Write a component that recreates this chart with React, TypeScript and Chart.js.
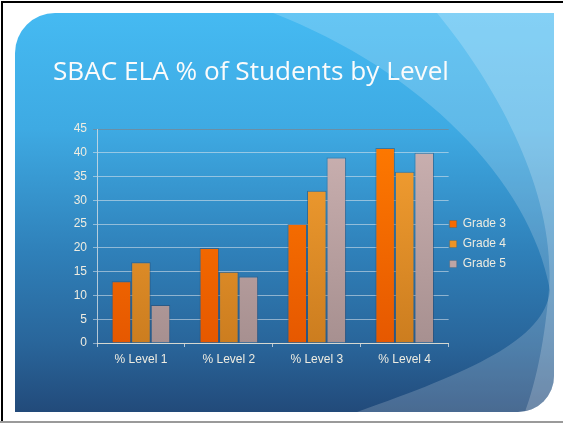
import { useEffect, useRef } from "react";
import { Chart, registerables } from "chart.js";

Chart.register(...registerables);

const categories = ["% Level 1", "% Level 2", "% Level 3", "% Level 4"];
const seriesNames = ["Grade 3", "Grade 4", "Grade 5"];
const grade3 = [13, 20, 25, 41];
const grade4 = [17, 15, 32, 36];
const grade5 = [8, 14, 39, 40];
const titleText = "SBAC ELA % of Students by Level";
const yMin = 0;
const yMax = 45;
const yStep = 5;

const W = 563;
const H = 424;
const TEXT = "#EEECE1";
const FONT = '"Liberation Sans", Arial, sans-serif';

const barTops = ["#ff7b00", "#f6a133", "#ccb2b2"];
const barBottoms = ["#e65800", "#cc7d1f", "#a79090"];
const legendColors = ["#f86a00", "#ee9426", "#bda5a5"];

function gradientFill(i: number) {
  return (ctx: any) => {
    const chart = ctx.chart;
    const ca = chart.chartArea;
    if (!ca) return barTops[i];
    const g = chart.ctx.createLinearGradient(0, ca.top, 0, ca.bottom);
    g.addColorStop(0, barTops[i]);
    g.addColorStop(1, barBottoms[i]);
    return g;
  };
}

const backgroundPlugin = {
  id: "slideBackground",
  beforeDraw(chart: any) {
    const ctx = chart.ctx as CanvasRenderingContext2D;
    ctx.save();
    ctx.fillStyle = "#ffffff";
    ctx.fillRect(0, 0, W, H);
    ctx.fillStyle = "#000000";
    ctx.fillRect(1, 1, W - 1, 2);
    ctx.fillRect(1, 1, 2, H - 3);
    ctx.fillStyle = "#9a9a9a";
    ctx.fillRect(0, 421, W, 2);

    ctx.beginPath();
    (ctx as any).roundRect(15, 13, 539, 399, [40, 0, 36, 0]);
    ctx.clip();
    const g = ctx.createLinearGradient(0, 13, 0, 412);
    g.addColorStop(0, "#45baf2");
    g.addColorStop(0.29, "#3eaae3");
    g.addColorStop(0.6, "#2f80b9");
    g.addColorStop(0.83, "#29659a");
    g.addColorStop(1, "#224a7a");
    ctx.fillStyle = g;
    ctx.fillRect(15, 13, 539, 399);

    ctx.beginPath();
    ctx.moveTo(273, 13);
    ctx.bezierCurveTo(420, 70, 530, 180, 550, 290);
    ctx.bezierCurveTo(545, 340, 470, 372, 357, 412);
    ctx.lineTo(560, 412);
    ctx.lineTo(560, 13);
    ctx.closePath();
    ctx.fillStyle = "rgba(255,255,255,0.18)";
    ctx.fill();

    ctx.beginPath();
    ctx.moveTo(437, 13);
    ctx.bezierCurveTo(500, 90, 560, 200, 548, 300);
    ctx.bezierCurveTo(542, 360, 532, 392, 525, 412);
    ctx.lineTo(560, 412);
    ctx.lineTo(560, 13);
    ctx.closePath();
    ctx.fillStyle = "rgba(255,255,255,0.2)";
    ctx.fill();
    ctx.restore();

    ctx.save();
    let size = 26;
    ctx.font = `${size}px "Open Sans", "DejaVu Sans", sans-serif`;
    const w = ctx.measureText(titleText).width;
    size = size * 396 / w;
    ctx.font = `${size}px "Open Sans", "DejaVu Sans", sans-serif`;
    ctx.fillStyle = "#fbfbfb";
    ctx.textBaseline = "alphabetic";
    ctx.textAlign = "left";
    ctx.fillText(titleText, 53, 80);
    ctx.restore();
  },
  afterLayout(chart: any) {
    const lg = chart.legend;
    if (lg && chart.chartArea) {
      const target = chart.chartArea.right + 1 - 8;
      const dx = target - lg.left;
      lg.left += dx;
      lg.right += dx;
      lg.top -= 7;
      lg.bottom -= 7;
    }
  },
};

export default function App() {
  const ref = useRef<HTMLCanvasElement>(null);
  useEffect(() => {
    const series = [grade3, grade4, grade5];
    const chart = new Chart(ref.current as HTMLCanvasElement, {
      type: "bar",
      data: {
        labels: categories,
        datasets: series.map((d, i) => ({
          label: seriesNames[i],
          data: d,
          backgroundColor: gradientFill(i),
          borderColor: "rgba(45,65,95,0.45)",
          borderWidth: 1,
          categoryPercentage: 0.667,
          barPercentage: 1,
        })),
      },
      options: {
        responsive: false,
        animation: false,
        devicePixelRatio: 1,
        layout: { padding: { left: 60, top: 129, right: 40, bottom: 51 } },
        plugins: {
          title: { display: false },
          tooltip: { enabled: false },
          legend: {
            position: "right",
            align: "center",
            labels: {
              color: TEXT,
              font: { family: FONT, size: 12 },
              boxWidth: 7,
              boxHeight: 7,
              padding: 8,
              generateLabels: (c: any) => {
                const items = Chart.defaults.plugins.legend.labels.generateLabels(c);
                return items.map((it: any, i: number) => ({
                  ...it,
                  fillStyle: legendColors[i],
                  strokeStyle: "rgba(60,60,60,0.4)",
                  lineWidth: 0.5,
                }));
              },
            },
          },
        },
        scales: {
          x: {
            grid: {
              display: true,
              drawOnChartArea: false,
              drawTicks: true,
              tickLength: 4,
              color: "rgba(215,222,228,0.8)",
              offset: true,
            },
            border: { display: true, color: "#d6d8d0" },
            ticks: { color: TEXT, font: { family: FONT, size: 12 }, padding: 5 },
            afterFit: (s: any) => {
              s.height = 30;
            },
          },
          y: {
            min: yMin,
            max: yMax,
            ticks: { stepSize: yStep, color: TEXT, font: { family: FONT, size: 12 }, padding: 6 },
            grid: {
              tickLength: 4,
              color: (ctx: any) =>
                ctx.tick && ctx.tick.value === yMax ? "rgba(110,140,160,0.9)" : "rgba(225,232,236,0.55)",
            },
            border: { display: true, color: "rgba(215,222,228,0.8)" },
            afterFit: (s: any) => {
              s.width = 37;
            },
          },
        },
      },
      plugins: [backgroundPlugin],
    } as any);
    return () => chart.destroy();
  }, []);
  return (
    <div style={{ position: "absolute", left: 0, top: 0, width: W, height: H }}>
      <canvas ref={ref} width={W} height={H} style={{ display: "block", width: W, height: H }} />
    </div>
  );
}
